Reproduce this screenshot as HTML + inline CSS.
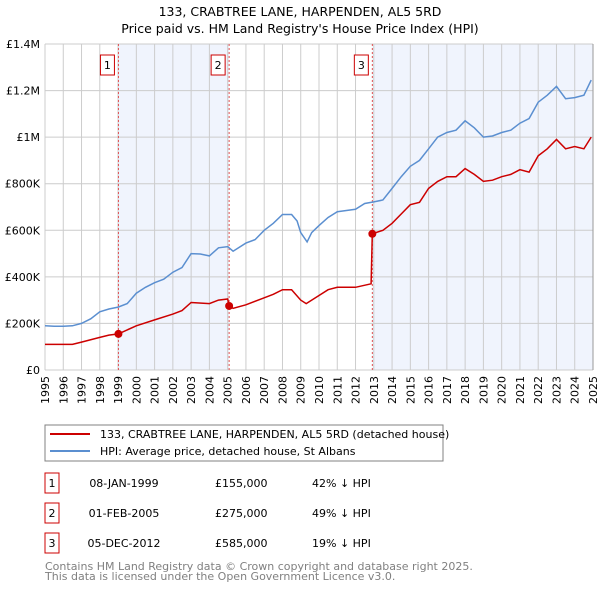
<!DOCTYPE html>
<html><head><meta charset="utf-8"><style>
body{margin:0;background:#fff;font-family:"DejaVu Sans","Liberation Sans",sans-serif;}
svg text{font-family:"DejaVu Sans","Liberation Sans",sans-serif;}
</style></head><body>
<svg id="chart" width="600" height="590" viewBox="0 0 600 590" xmlns="http://www.w3.org/2000/svg">
<text x="300" y="16" text-anchor="middle" font-size="12.5" fill="#000">133, CRABTREE LANE, HARPENDEN, AL5 5RD</text>
<text x="300" y="33" text-anchor="middle" font-size="12.5" fill="#000">Price paid vs. HM Land Registry's House Price Index (HPI)</text>
<g id="plot"></g>
<rect x="45" y="425" width="398" height="36" fill="#fff" stroke="#808080"/>
<line x1="50" y1="434" x2="90" y2="434" stroke="#cc0000" stroke-width="2"/>
<text x="100" y="438" font-size="11">133, CRABTREE LANE, HARPENDEN, AL5 5RD (detached house)</text>
<line x1="50" y1="451" x2="90" y2="451" stroke="#5b8fd0" stroke-width="2"/>
<text x="100" y="455" font-size="11">HPI: Average price, detached house, St Albans</text>
<g id="table" font-size="11"></g>
<text x="45" y="570" font-size="11" fill="#808080">Contains HM Land Registry data © Crown copyright and database right 2025.</text>
<text x="45" y="580" font-size="11" fill="#808080">This data is licensed under the Open Government Licence v3.0.</text>
</svg>
<script>
const yTicks=[0,200000,400000,600000,800000,1000000,1200000,1400000];
const yTickLabels=["£0","£200K","£400K","£600K","£800K","£1M","£1.2M","£1.4M"];
const xYears=[1995,1996,1997,1998,1999,2000,2001,2002,2003,2004,2005,2006,2007,2008,2009,2010,2011,2012,2013,2014,2015,2016,2017,2018,2019,2020,2021,2022,2023,2024,2025];
const hpiDates=[1995,1995.5,1996,1996.5,1997,1997.5,1998,1998.5,1999,1999.5,2000,2000.5,2001,2001.5,2002,2002.5,2003,2003.5,2004,2004.5,2005,2005.3,2006,2006.5,2007,2007.5,2008,2008.5,2008.8,2009,2009.35,2009.6,2010,2010.5,2011,2011.5,2012,2012.5,2013,2013.5,2014,2014.5,2015,2015.5,2016,2016.5,2017,2017.5,2018,2018.5,2019,2019.5,2020,2020.5,2021,2021.5,2022,2022.5,2023,2023.5,2024,2024.5,2024.9];
const hpiValues=[190000,188000,188000,190000,200000,220000,250000,262000,270000,285000,330000,355000,375000,390000,420000,440000,500000,498000,490000,525000,530000,510000,545000,560000,600000,630000,668000,668000,640000,590000,550000,590000,620000,655000,680000,685000,690000,715000,722000,730000,780000,830000,875000,900000,950000,1000000,1020000,1030000,1070000,1040000,1000000,1005000,1020000,1030000,1060000,1080000,1150000,1180000,1218000,1165000,1170000,1180000,1245000];
const priceDates=[1995,1996,1996.5,1997,1998,1998.5,1999.02,2000,2001,2002,2002.5,2003,2004,2004.5,2005,2005.08,2005.3,2006,2007,2007.5,2008,2008.5,2009,2009.3,2010,2010.5,2011,2012,2012.85,2012.92,2013.5,2014,2014.5,2015,2015.5,2016,2016.5,2017,2017.5,2018,2018.5,2019,2019.5,2020,2020.5,2021,2021.5,2022,2022.5,2023,2023.5,2024,2024.5,2024.9];
const priceValues=[110000,110000,110000,120000,140000,150000,155000,190000,215000,240000,255000,290000,285000,300000,305000,275000,265000,280000,310000,325000,345000,345000,300000,285000,320000,345000,355000,355000,370000,585000,600000,630000,670000,710000,720000,780000,810000,830000,830000,865000,840000,810000,815000,830000,840000,860000,850000,920000,950000,990000,950000,960000,950000,1000000];
const saleDates=[1999.02,2005.08,2012.92];
const saleValues=[155000,275000,585000];
const saleLabels=["1","2","3"];
const saleDateText=["08-JAN-1999","01-FEB-2005","05-DEC-2012"];
const salePriceText=["£155,000","£275,000","£585,000"];
const saleHpiText=["42% ↓ HPI","49% ↓ HPI","19% ↓ HPI"];

const NS="http://www.w3.org/2000/svg";
const X0=45,X1=593,Y0=370,Y1=44;
function xs(t){return X0+(t-1995)/30*(X1-X0);}
function ys(v){return Y0-v/1400000*(Y0-Y1);}
function mk(tag,attrs,parent){const e=document.createElementNS(NS,tag);for(const k in attrs)e.setAttribute(k,attrs[k]);parent.appendChild(e);return e;}
const plot=document.getElementById('plot');
let r1=mk('rect',{x:xs(saleDates[0]),y:Y1,width:xs(saleDates[1])-xs(saleDates[0]),height:Y0-Y1,fill:'#f0f4fd'},plot);


let r2=mk('rect',{x:xs(saleDates[2]),y:Y1,width:X1-xs(saleDates[2]),height:Y0-Y1,fill:'#f0f4fd'},plot);


xYears.forEach(y=>{const l=mk('line',{x1:xs(y),x2:xs(y),y1:Y1,y2:Y0,stroke:'#cccccc','stroke-width':1},plot);


const g=mk('g',{},plot);
g.setAttribute('transform','translate('+(xs(y)+4).toFixed(1)+','+(Y0+6)+')');
const t=mk('text',{x:0,y:0,'font-size':11,'text-anchor':'end'},g);
t.setAttribute('transform','rotate(-90)');
t.textContent=y;

});
yTicks.forEach((v,i)=>{const l=mk('line',{x1:X0,x2:X1,y1:ys(v),y2:ys(v),stroke:'#cccccc','stroke-width':1},plot);


const t=mk('text',{x:X0-5,y:ys(v)+4,'font-size':11,'text-anchor':'end'},plot);t.textContent=yTickLabels[i];

});
const rb=mk('line',{x1:X1,x2:X1,y1:Y1,y2:Y0,stroke:'#999',"stroke-width":1},plot);


saleDates.forEach((d,i)=>{const l=mk('line',{x1:xs(d),x2:xs(d),y1:Y1,y2:Y0,stroke:'#e05050','stroke-width':1,'stroke-dasharray':'2,2'},plot);


const b=mk('rect',{x:xs(d)-18,y:55,width:14,height:20,fill:'#fff',stroke:'#cc0000'},plot);


const t=mk('text',{x:xs(d)-11,y:69,'font-size':11,'text-anchor':'middle'},plot);t.textContent=saleLabels[i];

});
function pts(ds,vs){return ds.map((d,i)=>xs(d).toFixed(1)+','+ys(vs[i]).toFixed(1)).join(' ');}
const hl=mk('polyline',{points:pts(hpiDates,hpiValues),fill:'none',stroke:'#5b8fd0','stroke-width':1.5},plot);


const pl=mk('polyline',{points:pts(priceDates,priceValues),fill:'none',stroke:'#cc0000','stroke-width':1.5},plot);


saleDates.forEach((d,i)=>{const c=mk('circle',{cx:xs(d),cy:ys(saleValues[i]),r:4,fill:'#cc0000'},plot);

});
const tb=document.getElementById('table');
saleLabels.forEach((s,i)=>{const y=483+i*30;
const b=mk('rect',{x:45,y:y-10,width:14,height:20,fill:'#fff',stroke:'#cc0000'},tb);


const t0=mk('text',{x:52,y:y+4,'text-anchor':'middle'},tb);t0.textContent=s;


const t1=mk('text',{x:124,y:y+4,'text-anchor':'middle'},tb);t1.textContent=saleDateText[i];


const t2=mk('text',{x:215,y:y+4},tb);t2.textContent=salePriceText[i];


const t3=mk('text',{x:312,y:y+4},tb);t3.textContent=saleHpiText[i];

});
</script>
</body></html>
